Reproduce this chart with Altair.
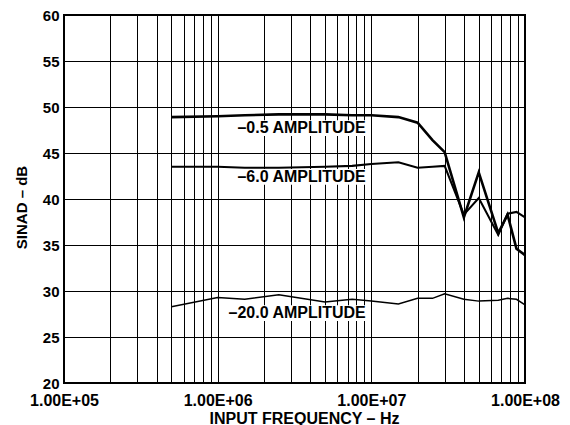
import altair as alt
import pandas as pd

# Measured SINAD (dB) versus input frequency (Hz) for three input amplitudes
freq_hz = [5e5, 1e6, 1.5e6, 2.5e6, 5e6, 7.5e6, 1e7, 1.5e7, 2e7, 2.5e7,
           3e7, 4e7, 5e7, 6.7e7, 7.7e7, 8.8e7, 1e8]
sinad_m0p5 = [48.9, 49.0, 49.1, 49.2, 49.2, 49.1, 49.1, 48.9, 48.3, 46.4,
              45.1, 38.0, 42.9, 36.3, 38.3, 34.6, 33.9]
sinad_m6p0 = [43.5, 43.5, 43.4, 43.4, 43.5, 43.6, 43.8, 44.0, 43.4, 43.5,
              43.6, 38.3, 40.1, 36.1, 38.4, 38.6, 38.0]
sinad_m20p0 = [28.3, 29.3, 29.1, 29.6, 28.8, 29.1, 28.9, 28.6, 29.2, 29.2,
               29.7, 29.1, 28.9, 29.0, 29.2, 29.1, 28.5]

series_names = ["–0.5 AMPLITUDE", "–6.0 AMPLITUDE", "–20.0 AMPLITUDE"]
series_values = [sinad_m0p5, sinad_m6p0, sinad_m20p0]

# Curve annotations: text, left/right extent of the white label box, centre level
label_left = [1.336e6, 1.336e6, 1.167e6]
label_right = [9.2e6, 9.2e6, 9.2e6]
label_level = [47.7, 42.4, 27.6]

FONT = "Liberation Sans"

rows = []
for name, vals in zip(series_names, series_values):
    for f, v in zip(freq_hz, vals):
        rows.append({"series": name, "freq": f, "sinad": v})
curves = pd.DataFrame(rows)

labels = pd.DataFrame({
    "text": series_names,
    "x0": label_left,
    "x1": label_right,
    "y": label_level,
    "y0": [v - 0.85 for v in label_level],
    "y1": [v + 0.85 for v in label_level],
})

# Log grid: every 1..9 x 10^k, labels only at decades
grid_vals = [m * 10 ** k for k in (5, 6, 7) for m in range(1, 10)] + [1e8]
decade_expr = ("abs(log(datum.value)/LN10 - round(log(datum.value)/LN10)) < 1e-6"
               " ? '1.00E+0' + round(log(datum.value)/LN10) : ''")

x_scale = alt.Scale(type="log", domain=[1e5, 1e8], nice=False)
y_scale = alt.Scale(domain=[20, 60], nice=False, zero=False)

x_axis = alt.Axis(
    title="INPUT FREQUENCY – Hz", values=grid_vals, labelExpr=decade_expr,
    labelOverlap=False, labelBound=False, labelFlush=False,
    tickSize=0, labelPadding=9, labelFontSize=16,
    titleFontSize=16, titleX=240, titleY=27, titleBaseline="top",
    domain=False, grid=True,
)
y_axis = alt.Axis(
    title="SINAD – dB", values=list(range(20, 61, 5)),
    tickSize=0, labelPadding=5, labelFontSize=15, domain=False, grid=True,
    titleFontSize=15, titleX=-35, titleY=192,
)

boxes = alt.Chart(labels).mark_rect(color="white").encode(
    x=alt.X("x0:Q", scale=x_scale, axis=x_axis),
    x2="x1:Q",
    y=alt.Y("y0:Q", scale=y_scale, axis=y_axis),
    y2="y1:Q",
)

texts = alt.Chart(labels).mark_text(
    align="right", baseline="middle", font=FONT, fontWeight="bold",
    fontSize=16, color="black",
).encode(
    x=alt.X("x1:Q", scale=x_scale),
    y=alt.Y("y:Q", scale=y_scale),
    text="text:N",
)

lines = alt.Chart(curves).mark_line(color="black").encode(
    x=alt.X("freq:Q", scale=x_scale),
    y=alt.Y("sinad:Q", scale=y_scale),
    detail="series:N",
    strokeWidth=alt.StrokeWidth(
        "series:N",
        scale=alt.Scale(domain=series_names, range=[2.6, 1.5, 1.5]),
        legend=None,
    ),
)

chart = alt.layer(boxes, texts, lines).properties(
    width=461,
    height=368,
    autosize=alt.AutoSizeParams(type="none"),
    padding={"left": 64, "top": 15, "right": 45, "bottom": 42},
    background="white",
).configure_view(
    stroke="black", strokeWidth=2,
).configure_axis(
    gridColor="black", gridOpacity=1, gridWidth=1,
    labelFont=FONT, labelFontWeight="bold", labelColor="black",
    titleFont=FONT, titleFontWeight="bold", titleColor="black",
)

chart.save("out.html", embed_options={"renderer": "svg", "actions": False})
